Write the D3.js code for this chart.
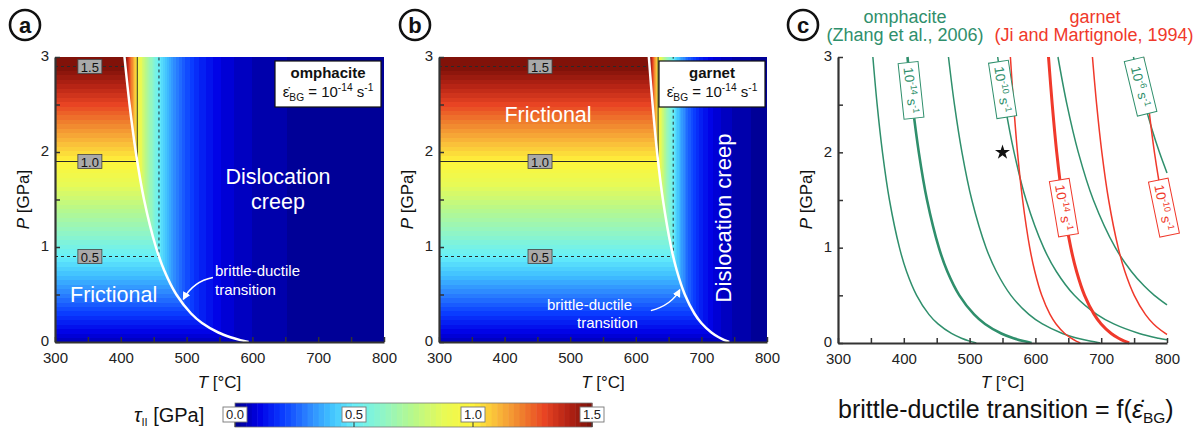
<!DOCTYPE html>
<meta charset="utf-8">
<script src="https://d3js.org/d3.v7.min.js"></script>
<style>
  body { margin: 0; background: #fff; }
  text { font-family: "Liberation Sans", Arial, sans-serif; }
</style>
<div id="fig"></div>
<script>

// colour bar stops (stress in GPa -> colour)
var cbStops  = [0, 0.1, 0.2, 0.3, 0.4, 0.5, 0.62, 0.75, 0.88, 1.0, 1.1, 1.2, 1.3, 1.4, 1.5];
var cbColors = ["#00008c", "#0000e6", "#0a3cff", "#2a80ff", "#40c0ff", "#66f0fa", "#8ff5c8",
                "#b8f88a", "#e8fa55", "#fff53a", "#f9bb3a", "#f0822e", "#e84423", "#b42214", "#7a1008"];
var cbTicks = [0, 0.5, 1.0, 1.5];

// frictional strength vs pressure
var fricP   = [0, 3];
var fricTau = [0.05, 1.55];

// creep strength vs temperature (10^-14 s^-1)
var omphCreepT   = [300, 380, 390, 400, 405, 410, 415, 420, 425, 430, 435, 440, 450, 460, 470, 480, 490, 500, 520, 550, 575, 600, 650, 700, 750, 800];
var omphCreepTau = [30, 2.88, 2.25, 1.77, 1.57, 1.40, 1.25, 1.12, 1.00, 0.897, 0.805, 0.724, 0.588, 0.481, 0.395, 0.326, 0.271, 0.226, 0.159, 0.097, 0.066, 0.046, 0.024, 0.013, 0.0076, 0.0047];
var garCreepT    = [300, 600, 610, 620, 630, 635, 640, 645, 650, 655, 660, 670, 680, 690, 700, 720, 740, 760, 780, 800];
var garCreepTau  = [30, 2.98, 2.14, 1.55, 1.13, 0.969, 0.832, 0.715, 0.615, 0.530, 0.458, 0.343, 0.258, 0.196, 0.150, 0.088, 0.053, 0.033, 0.021, 0.013];

// stress contours
var contourLevels = ["0.5", "1.0", "1.5"];
var contourP  = [0.9, 1.9, 2.9];
var contourTa = [458, 425, 407];
var contourTb = [657, 634, 621];

// brittle-ductile transition curves, omphacite
var ompP     = [3, 2.5, 2, 1.5, 1, 0.75, 0.5, 0.3, 0.2, 0.1, 0.05, 0.02, 0];
var omph16T  = [353.0, 359.5, 367.6, 378.2, 393.4, 404.2, 419.5, 438.1, 452.0, 472.4, 487.7, 499.9, 510.2];
var omph14T  = [405.6, 413.3, 422.8, 435.3, 453.3, 466.2, 484.4, 506.8, 523.4, 548.2, 566.7, 581.7, 594.3];
var omph12T  = [467.9, 477.0, 488.4, 503.4, 525.0, 540.7, 562.8, 590.1, 610.6, 641.1, 664.1, 682.8, 698.6];
var omph10P  = [3, 2.5, 2, 1.5, 1, 0.75, 0.5, 0.3, 0.2, 0.1, 0.05, 0.033];
var omph10T  = [542.7, 553.7, 567.6, 585.9, 612.5, 631.8, 659.2, 693.3, 719.1, 757.8, 787.1, 800];
var omph8P   = [3, 2.5, 2, 1.5, 1, 0.75, 0.6, 0.5, 0.4];
var omph8T   = [634.3, 648.0, 665.2, 688.1, 721.5, 745.9, 765.1, 780.8, 800];
var omph6P   = [3, 2.5, 2.25, 2, 1.784];
var omph6T   = [749.0, 766.5, 776.8, 788.5, 800];

// brittle-ductile transition curves, garnet
var garP     = [3, 2.5, 2, 1.5, 1, 0.75, 0.5, 0.3, 0.2, 0.1, 0.05, 0.02, 0];
var gar16T   = [562.0, 566.9, 572.8, 580.6, 591.4, 599.1, 609.6, 622.2, 631.4, 644.6, 654.3, 661.9, 668.2];
var gar14T   = [619.9, 625.6, 632.4, 641.3, 653.8, 662.6, 674.7, 689.3, 699.9, 715.2, 726.4, 735.2, 742.5];
var gar12P   = [3, 2.5, 2, 1.5, 1, 0.75, 0.5, 0.3, 0.2, 0.1, 0.089];
var gar12T   = [686.7, 693.1, 701.0, 711.3, 725.8, 736.0, 750.2, 767.1, 779.5, 797.5, 800];
var gar10P   = [3, 2.5, 2, 1.5, 1.268];
var gar10T   = [764.2, 771.7, 780.9, 792.9, 800];

// reference point (star)
var starT = [550], starP = [2.0];

var green = "#2f8f6c", red = "#f0392b", axisCol = "#333";

var svg = d3.select("#fig").append("svg")
    .attr("width", 1202)
    .attr("height", 430);

svg.append("defs").append("marker")
    .attr("id", "arrW")
    .attr("markerUnits", "userSpaceOnUse")
    .attr("markerWidth", 9).attr("markerHeight", 8)
    .attr("refX", 7).attr("refY", 4)
    .attr("orient", "auto")
  .append("path")
    .attr("d", "M0,0 L8,4 L0,8 Z")
    .attr("fill", "#fff");

// colour map, 64 steps like the original
var cmap = d3.scaleLinear().domain(cbStops).range(cbColors).clamp(true);
var nLev = 64;
var levColors = d3.range(nLev).map(function(k) { return d3.rgb(cmap((k + 0.5) / nLev * 1.5)); });
var levIndex = d3.scaleQuantize().domain([0, 1.5]).range(d3.range(nLev));

var plotTop = 57, plotBottom = 342;

function makeScales(x0, x1, b) {
  return {
    x: d3.scaleLinear().domain([300, 800]).range([x0, x1]),
    y: d3.scaleLinear().domain([0, 3]).range([b || plotBottom, plotTop])
  };
}

function drawHeat(x, y, creepT, creepTau) {
  var x0 = x.range()[0], y0 = y.range()[1];
  var w = Math.round(x.range()[1] - x0), h = Math.round(y.range()[0] - y0);
  var canvas = document.createElement("canvas");
  canvas.width = w; canvas.height = h;
  var ctx = canvas.getContext("2d");
  var img = ctx.createImageData(w, h);
  var fric = d3.scaleLinear().domain(fricP).range(fricTau);
  var creep = d3.scaleLinear().domain(creepT).range(creepTau).clamp(true);
  for (var j = 0; j < h; j++) {
    var tf = fric(y.invert(y0 + j + 0.5));
    for (var i = 0; i < w; i++) {
      var tau = Math.min(tf, creep(x.invert(x0 + i + 0.5)));
      var c = levColors[levIndex(tau)];
      var k = (j * w + i) * 4;
      img.data[k] = c.r; img.data[k + 1] = c.g; img.data[k + 2] = c.b; img.data[k + 3] = 255;
    }
  }
  ctx.putImageData(img, 0, 0);
  svg.append("image")
    .attr("x", x0).attr("y", y0)
    .attr("width", w).attr("height", h)
    .attr("preserveAspectRatio", "none")
    .attr("href", canvas.toDataURL());
}

function drawContours(x, y, contourT, labelT) {
  contourLevels.forEach(function(lev, i) {
    var pts = [[300, contourP[i]], [contourT[i], contourP[i]], [contourT[i], 3]];
    svg.append("path")
      .attr("d", d3.line().x(function(d) { return x(d[0]); }).y(function(d) { return y(d[1]); })(pts))
      .attr("fill", "none")
      .attr("stroke", "#2a2a2a")
      .attr("stroke-width", 1)
      .attr("stroke-dasharray", lev === "1.0" ? null : "3,3");
    var g = svg.append("g").attr("transform", "translate(" + x(labelT) + "," + y(contourP[i]) + ")");
    g.append("rect")
      .attr("x", -12).attr("y", -7).attr("width", 24).attr("height", 14)
      .attr("fill", "#a9a9a9").attr("stroke", "#444").attr("stroke-width", 0.8);
    g.append("text")
      .attr("text-anchor", "middle").attr("y", 5)
      .attr("font-size", 13).attr("fill", "#111")
      .text(lev);
  });
}

function curveLine(x, y) {
  return d3.line()
    .x(function(d) { return x(d[0]); })
    .y(function(d) { return y(d[1]); })
    .curve(d3.curveCatmullRom);
}

function zip(T, P) { return T.map(function(t, i) { return [t, P[i]]; }); }

function drawAxes(x, y) {
  var gx = svg.append("g")
    .attr("transform", "translate(0," + y(0) + ")")
    .call(d3.axisBottom(x)
      .tickValues(d3.range(300, 801, 50))
      .tickSizeInner(-5).tickSizeOuter(0).tickPadding(10)
      .tickFormat(function(d) { return d % 100 ? "" : d; }));
  var gy = svg.append("g")
    .attr("transform", "translate(" + x(300) + ",0)")
    .call(d3.axisLeft(y)
      .tickValues(d3.range(0, 3.01, 0.5))
      .tickSizeInner(-5).tickSizeOuter(0).tickPadding(6)
      .tickFormat(function(d) { return d % 1 ? "" : d; }));
  [gx, gy].forEach(function(g) {
    g.select(".domain").attr("stroke", axisCol).attr("stroke-width", 2.2);
    g.selectAll(".tick line").attr("stroke", axisCol).attr("stroke-width", 1.5);
    g.selectAll(".tick text").attr("font-size", 15).attr("fill", "#222")
      .style("font-family", "'Liberation Sans', Arial, sans-serif");
  });
  gy.selectAll(".tick text").attr("dy", "0.25em");

  var cx = (x.range()[0] + x.range()[1]) / 2;
  var tl = svg.append("text").attr("x", cx).attr("y", 388)
    .attr("text-anchor", "middle").attr("font-size", 17).attr("fill", "#111");
  tl.append("tspan").attr("font-style", "italic").text("T");
  tl.append("tspan").text(" [°C]");

  var pl = svg.append("text")
    .attr("transform", "translate(" + (x.range()[0] - 26) + "," + ((plotTop + plotBottom) / 2) + ") rotate(-90)")
    .attr("text-anchor", "middle").attr("font-size", 17).attr("fill", "#111");
  pl.append("tspan").attr("font-style", "italic").text("P");
  pl.append("tspan").text(" [GPa]");
}

function panelLetter(cx, letter) {
  svg.append("circle").attr("cx", cx).attr("cy", 25).attr("r", 15)
    .attr("fill", "#fff").attr("stroke", "#111").attr("stroke-width", 2.6);
  svg.append("text").attr("x", cx).attr("y", 32.5)
    .attr("text-anchor", "middle").attr("font-size", 22).attr("font-weight", "bold")
    .attr("fill", "#111").text(letter);
}

function rateText(sel, size, sub, expo) {
  // "ε̇BG = 10^expo s^-1"
  var small = size * 0.68;
  sel.append("tspan").text("\u03b5\u0307");
  sel.append("tspan").attr("font-size", small).attr("dy", 4).text(sub);
  sel.append("tspan").attr("dy", -4).text(" = 10");
  sel.append("tspan").attr("font-size", small).attr("dy", -6).text(expo);
  sel.append("tspan").attr("dy", 6).text(" s");
  sel.append("tspan").attr("font-size", small).attr("dy", -6).text("-1");
}

function infoBox(x0, x1, name) {
  svg.append("rect").attr("x", x0).attr("y", 61).attr("width", x1 - x0).attr("height", 46)
    .attr("fill", "#fff").attr("stroke", "#111").attr("stroke-width", 1.2);
  var cx = (x0 + x1) / 2;
  svg.append("text").attr("x", cx).attr("y", 78).attr("text-anchor", "middle")
    .attr("font-size", 15).attr("font-weight", "bold").attr("fill", "#111").text(name);
  var t = svg.append("text").attr("x", cx).attr("y", 97).attr("text-anchor", "middle")
    .attr("font-size", 15).attr("fill", "#111");
  rateText(t, 15, "BG", "-14");
}

function whiteText(x, y, txt, size, anchor) {
  return svg.append("text").attr("x", x).attr("y", y)
    .attr("text-anchor", anchor || "middle").attr("font-size", size)
    .attr("fill", "#fff").text(txt);
}

// ---------- panel a : omphacite ----------
var A = makeScales(55, 384);
drawHeat(A.x, A.y, omphCreepT, omphCreepTau);
drawContours(A.x, A.y, contourTa, 353);
svg.append("path").attr("d", curveLine(A.x, A.y)(zip(omph14T, ompP)))
  .attr("fill", "none").attr("stroke", "#fff").attr("stroke-width", 2.5);
infoBox(275, 381, "omphacite");
whiteText(278, 184, "Dislocation", 21.5);
whiteText(278, 209, "creep", 21.5);
whiteText(70, 302, "Frictional", 21.5, "start");
whiteText(215, 276, "brittle-ductile", 15, "start");
whiteText(215, 295, "transition", 15, "start");
svg.append("path")
  .attr("d", "M" + A.x(540) + "," + A.y(0.68) + " Q" + A.x(510) + "," + A.y(0.64) + " " + A.x(495) + "," + A.y(0.45))
  .attr("fill", "none").attr("stroke", "#fff").attr("stroke-width", 1.5)
  .attr("marker-end", "url(#arrW)");
drawAxes(A.x, A.y);
panelLetter(25, "a");

// ---------- panel b : garnet ----------
var B = makeScales(439, 767);
drawHeat(B.x, B.y, garCreepT, garCreepTau);
drawContours(B.x, B.y, contourTb, 454);
svg.append("path").attr("d", curveLine(B.x, B.y)(zip(gar14T, garP)))
  .attr("fill", "none").attr("stroke", "#fff").attr("stroke-width", 2.5);
infoBox(659, 765, "garnet");
whiteText(548, 122, "Frictional", 21.5);
svg.append("text")
  .attr("transform", "translate(731,218) rotate(-90)")
  .attr("text-anchor", "middle").attr("font-size", 22).attr("fill", "#fff")
  .text("Dislocation creep");
whiteText(547, 310, "brittle-ductile", 15, "start");
whiteText(577, 328, "transition", 15, "start");
svg.append("path")
  .attr("d", "M" + B.x(623) + "," + B.y(0.33) + " Q" + B.x(655) + "," + B.y(0.39) + " " + B.x(667) + "," + B.y(0.55))
  .attr("fill", "none").attr("stroke", "#fff").attr("stroke-width", 1.5)
  .attr("marker-end", "url(#arrW)");
drawAxes(B.x, B.y);
panelLetter(415, "b");

// ---------- panel c : transition curves ----------
var C = makeScales(838, 1167, 343);
var greenCurves = [
  {T: omph16T, P: ompP,    w: 1.5},
  {T: omph14T, P: ompP,    w: 2.6},
  {T: omph12T, P: ompP,    w: 1.5},
  {T: omph10T, P: omph10P, w: 1.5},
  {T: omph8T,  P: omph8P,  w: 1.5},
  {T: omph6T,  P: omph6P,  w: 1.5}
];
var redCurves = [
  {T: gar16T, P: garP,   w: 1.5},
  {T: gar14T, P: garP,   w: 3},
  {T: gar12T, P: gar12P, w: 1.5},
  {T: gar10T, P: gar10P, w: 1.5}
];
var lc = curveLine(C.x, C.y);
greenCurves.forEach(function(c) {
  svg.append("path").attr("d", lc(zip(c.T, c.P)))
    .attr("fill", "none").attr("stroke", green).attr("stroke-width", c.w);
});
redCurves.forEach(function(c) {
  svg.append("path").attr("d", lc(zip(c.T, c.P)))
    .attr("fill", "none").attr("stroke", red).attr("stroke-width", c.w);
});

// curve labels: which curve, exponent, pressure of the label
var greenLabelCurve = [1, 3, 5], greenLabelExp = ["-14", "-10", "-6"], greenLabelP = [2.65, 2.66, 2.69];
var redLabelCurve = [1, 3], redLabelExp = ["-14", "-10"], redLabelP = [1.42, 1.42];

function curveLabel(c, expo, p0, col) {
  var f = d3.scaleLinear().domain(c.P).range(c.T);
  var ax = C.x(f(p0 + 0.1)), ay = C.y(p0 + 0.1), bx = C.x(f(p0 - 0.1)), by = C.y(p0 - 0.1);
  var ang = Math.atan2(by - ay, bx - ax) * 180 / Math.PI;
  var g = svg.append("g")
    .attr("transform", "translate(" + C.x(f(p0)) + "," + C.y(p0) + ") rotate(" + ang + ")");
  g.append("rect").attr("x", -28).attr("y", -10).attr("width", 56).attr("height", 20)
    .attr("fill", "#fff").attr("stroke", col).attr("stroke-width", 1);
  var t = g.append("text").attr("text-anchor", "middle").attr("y", 5)
    .attr("font-size", 13.5).attr("fill", col);
  t.append("tspan").text("10");
  t.append("tspan").attr("font-size", 9).attr("dy", -5).text(expo);
  t.append("tspan").attr("dy", 5).text(" s");
  t.append("tspan").attr("font-size", 9).attr("dy", -5).text("-1");
}
greenLabelCurve.forEach(function(k, i) { curveLabel(greenCurves[k], greenLabelExp[i], greenLabelP[i], green); });
redLabelCurve.forEach(function(k, i) { curveLabel(redCurves[k], redLabelExp[i], redLabelP[i], red); });

svg.selectAll("star").data(starT).enter().append("path")
  .attr("transform", function(d, i) { return "translate(" + C.x(d) + "," + C.y(starP[i]) + ")"; })
  .attr("d", d3.symbol().type(d3.symbolStar).size(70))
  .attr("fill", "#111");

drawAxes(C.x, C.y);
panelLetter(803, "c");

svg.append("text").attr("x", 905).attr("y", 23).attr("text-anchor", "middle")
  .attr("font-size", 18).attr("fill", green).text("omphacite");
svg.append("text").attr("x", 905).attr("y", 41).attr("text-anchor", "middle")
  .attr("font-size", 18).attr("fill", green).text("(Zhang et al., 2006)");
svg.append("text").attr("x", 1095).attr("y", 23).attr("text-anchor", "middle")
  .attr("font-size", 18).attr("fill", red).text("garnet");
svg.append("text").attr("x", 1094).attr("y", 41).attr("text-anchor", "middle")
  .attr("font-size", 18).attr("fill", red).text("(Ji and Martignole, 1994)");

var bt = svg.append("text").attr("x", 838).attr("y", 418)
  .attr("font-size", 25).attr("fill", "#111");
bt.append("tspan").text("brittle-ductile transition = f(");
bt.append("tspan").attr("font-style", "italic").text("\u03b5\u0307");
bt.append("tspan").attr("font-size", 15.5).attr("dy", 5).text("BG");
bt.append("tspan").attr("dy", -5).text(")");

// ---------- colour bar ----------
var cbX = d3.scaleLinear().domain([0, 1.5]).range([235, 592]);
svg.selectAll("cbcell").data(levColors).enter().append("rect")
  .attr("x", function(d, i) { return cbX(i / nLev * 1.5); })
  .attr("y", 403)
  .attr("width", function(d, i) { return cbX((i + 1) / nLev * 1.5) - cbX(i / nLev * 1.5) + 0.5; })
  .attr("height", 24)
  .attr("fill", function(d) { return d; });
svg.append("rect").attr("x", cbX(0)).attr("y", 403).attr("width", cbX(1.5) - cbX(0)).attr("height", 24)
  .attr("fill", "none").attr("stroke", "#777").attr("stroke-width", 0.8);
cbTicks.forEach(function(v) {
  svg.append("line").attr("x1", cbX(v)).attr("x2", cbX(v)).attr("y1", 421).attr("y2", 427)
    .attr("stroke", "#333").attr("stroke-width", 1);
  svg.append("rect").attr("x", cbX(v) - 12).attr("y", 407).attr("width", 24).attr("height", 15)
    .attr("fill", "#fff").attr("stroke", "#777").attr("stroke-width", 0.9);
  svg.append("text").attr("x", cbX(v)).attr("y", 419).attr("text-anchor", "middle")
    .attr("font-size", 13).attr("fill", "#222").text(v.toFixed(1));
});
var cl = svg.append("text").attr("x", 134).attr("y", 422).attr("font-size", 20).attr("fill", "#111");
cl.append("tspan").attr("font-style", "italic").text("\u03c4");
cl.append("tspan").attr("font-size", 11).attr("dy", 4).text("II");
cl.append("tspan").attr("dy", -4).text(" [GPa]");

</script>
